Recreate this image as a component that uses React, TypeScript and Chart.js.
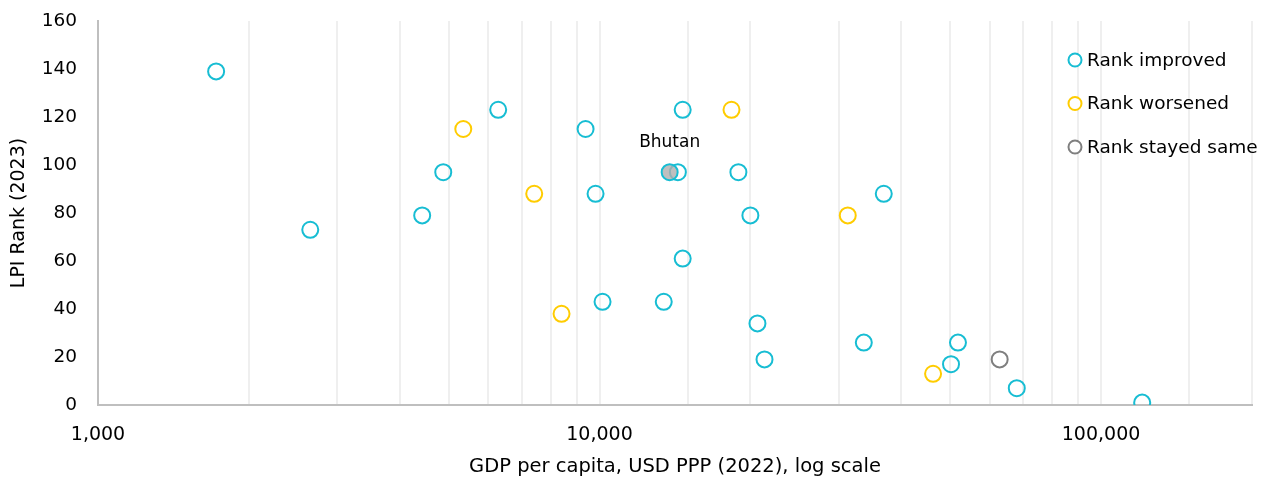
import React, { useEffect, useRef } from "react";
import { Chart, registerables } from "chart.js";

Chart.register(...registerables);

const improvedGdp = [1720, 2650, 4430, 4880, 6280, 9380, 9820, 10140, 13430, 14330, 14650, 14650, 18920, 19990, 20650, 21330, 33650, 36880, 50220, 51850, 67920, 120800];
const improvedRank = [139, 73, 79, 97, 123, 115, 88, 43, 43, 97, 123, 61, 97, 79, 34, 19, 26, 88, 17, 26, 7, 1];
const worsenedGdp = [5350, 7410, 8400, 18330, 31260, 46250];
const worsenedRank = [115, 88, 38, 123, 79, 13];
const sameGdp = [62790];
const sameRank = [19];
const bhutanGdp = [13800];
const bhutanRank = [97];
const bhutanLabel = "Bhutan";

const xTickLabels = ["1,000", "10,000", "100,000"];
const yTicks = [0, 20, 40, 60, 80, 100, 120, 140, 160];

const CYAN = "#17BDD3";
const YELLOW = "#FFCC00";
const GRAY = "#7F7F7F";
const FONT = "'DejaVu Sans', sans-serif";

const legendItems = [
  { label: "Rank improved", color: CYAN },
  { label: "Rank worsened", color: YELLOW },
  { label: "Rank stayed same", color: GRAY },
];

const toPoints = (xs: number[], ys: number[]) => xs.map((x, i) => ({ x, y: ys[i] }));

const overlayPlugin = {
  id: "overlay",
  afterDatasetsDraw(chart: any) {
    const ctx = chart.ctx;
    const xs = chart.scales.x;
    const ys = chart.scales.y;
    ctx.save();
    ctx.font = `17px ${FONT}`;
    ctx.fillStyle = "#000";
    ctx.textAlign = "center";
    ctx.textBaseline = "middle";
    ctx.fillText(bhutanLabel, xs.getPixelForValue(bhutanGdp[0]), ys.getPixelForValue(bhutanRank[0]) - 30);
    const lx = 1075;
    const ly0 = 60;
    const step = 43.5;
    legendItems.forEach((it, i) => {
      const y = ly0 + i * step;
      ctx.beginPath();
      ctx.arc(lx, y, 6.5, 0, Math.PI * 2);
      ctx.fillStyle = "#fff";
      ctx.fill();
      ctx.lineWidth = 2;
      ctx.strokeStyle = it.color;
      ctx.stroke();
      ctx.fillStyle = "#000";
      ctx.textAlign = "left";
      ctx.textBaseline = "middle";
      ctx.font = `18.5px ${FONT}`;
      ctx.fillText(it.label, lx + 12, y + 1);
    });
    ctx.restore();
  },
};

export default function App() {
  const ref = useRef<HTMLCanvasElement | null>(null);
  useEffect(() => {
    if (!ref.current) return;
    const ptStyle = (color: string, bg: string) => ({
      pointRadius: 8,
      pointHoverRadius: 8,
      pointBorderWidth: 2,
      borderColor: color,
      backgroundColor: bg,
      pointBorderColor: color,
      pointBackgroundColor: bg,
      showLine: false,
    });
    const chart = new Chart(ref.current, {
      type: "scatter",
      data: {
        datasets: [
          { label: "Bhutan", data: toPoints(bhutanGdp, bhutanRank), ...ptStyle(CYAN, "rgba(175,175,175,0.8)") },
          { label: "Rank improved", data: toPoints(improvedGdp, improvedRank), ...ptStyle(CYAN, "rgba(255,255,255,0)") },
          { label: "Rank worsened", data: toPoints(worsenedGdp, worsenedRank), ...ptStyle(YELLOW, "rgba(255,255,255,0)") },
          { label: "Rank stayed same", data: toPoints(sameGdp, sameRank), ...ptStyle(GRAY, "rgba(255,255,255,0)") },
        ],
      },
      options: {
        responsive: false,
        animation: false,
        layout: { padding: { top: 21, right: 17, left: 0, bottom: 0 } },
        plugins: { legend: { display: false }, tooltip: { enabled: false } },
        scales: {
          x: {
            type: "logarithmic",
            min: 1000,
            max: 200000,
            afterFit: (s: any) => { s.height = 74; s.paddingLeft = 0; s.paddingRight = 0; },
            grid: { color: "#EFEFEF", lineWidth: 2, drawTicks: false },
            border: { display: true, color: "#BFBFBF", width: 2 },
            ticks: {
              padding: 19,
              autoSkip: false,
              maxRotation: 0,
              color: "#000",
              font: { family: FONT, size: 19 },
              callback: (v: any) => {
                const idx = [1000, 10000, 100000].indexOf(Number(v));
                return idx >= 0 ? xTickLabels[idx] : "";
              },
            },
            title: {
              display: true,
              text: "GDP per capita, USD PPP (2022), log scale",
              color: "#000",
              font: { family: FONT, size: 19.5 },
              padding: { top: 0, bottom: 0 },
            },
          },
          y: {
            min: 0,
            max: 160,
            afterFit: (s: any) => { s.width = 98; s.paddingTop = 0; s.paddingBottom = 0; },
            afterBuildTicks: (s: any) => { s.ticks = yTicks.map((v) => ({ value: v })); },
            grid: { display: false, drawTicks: false },
            border: { display: true, color: "#BFBFBF", width: 2 },
            ticks: {
              padding: 21,
              color: "#000",
              font: { family: FONT, size: 18.5 },
            },
            title: {
              display: true,
              text: "LPI Rank (2023)",
              color: "#000",
              font: { family: FONT, size: 19 },
              padding: { top: 8, bottom: 0 },
            },
          },
        },
      },
      plugins: [overlayPlugin],
    });
    return () => chart.destroy();
  }, []);
  return (
    <div style={{ position: "absolute", left: 0, top: 0, width: 1269, height: 479, background: "#fff" }}>
      <canvas ref={ref} width={1269} height={479} />
    </div>
  );
}
